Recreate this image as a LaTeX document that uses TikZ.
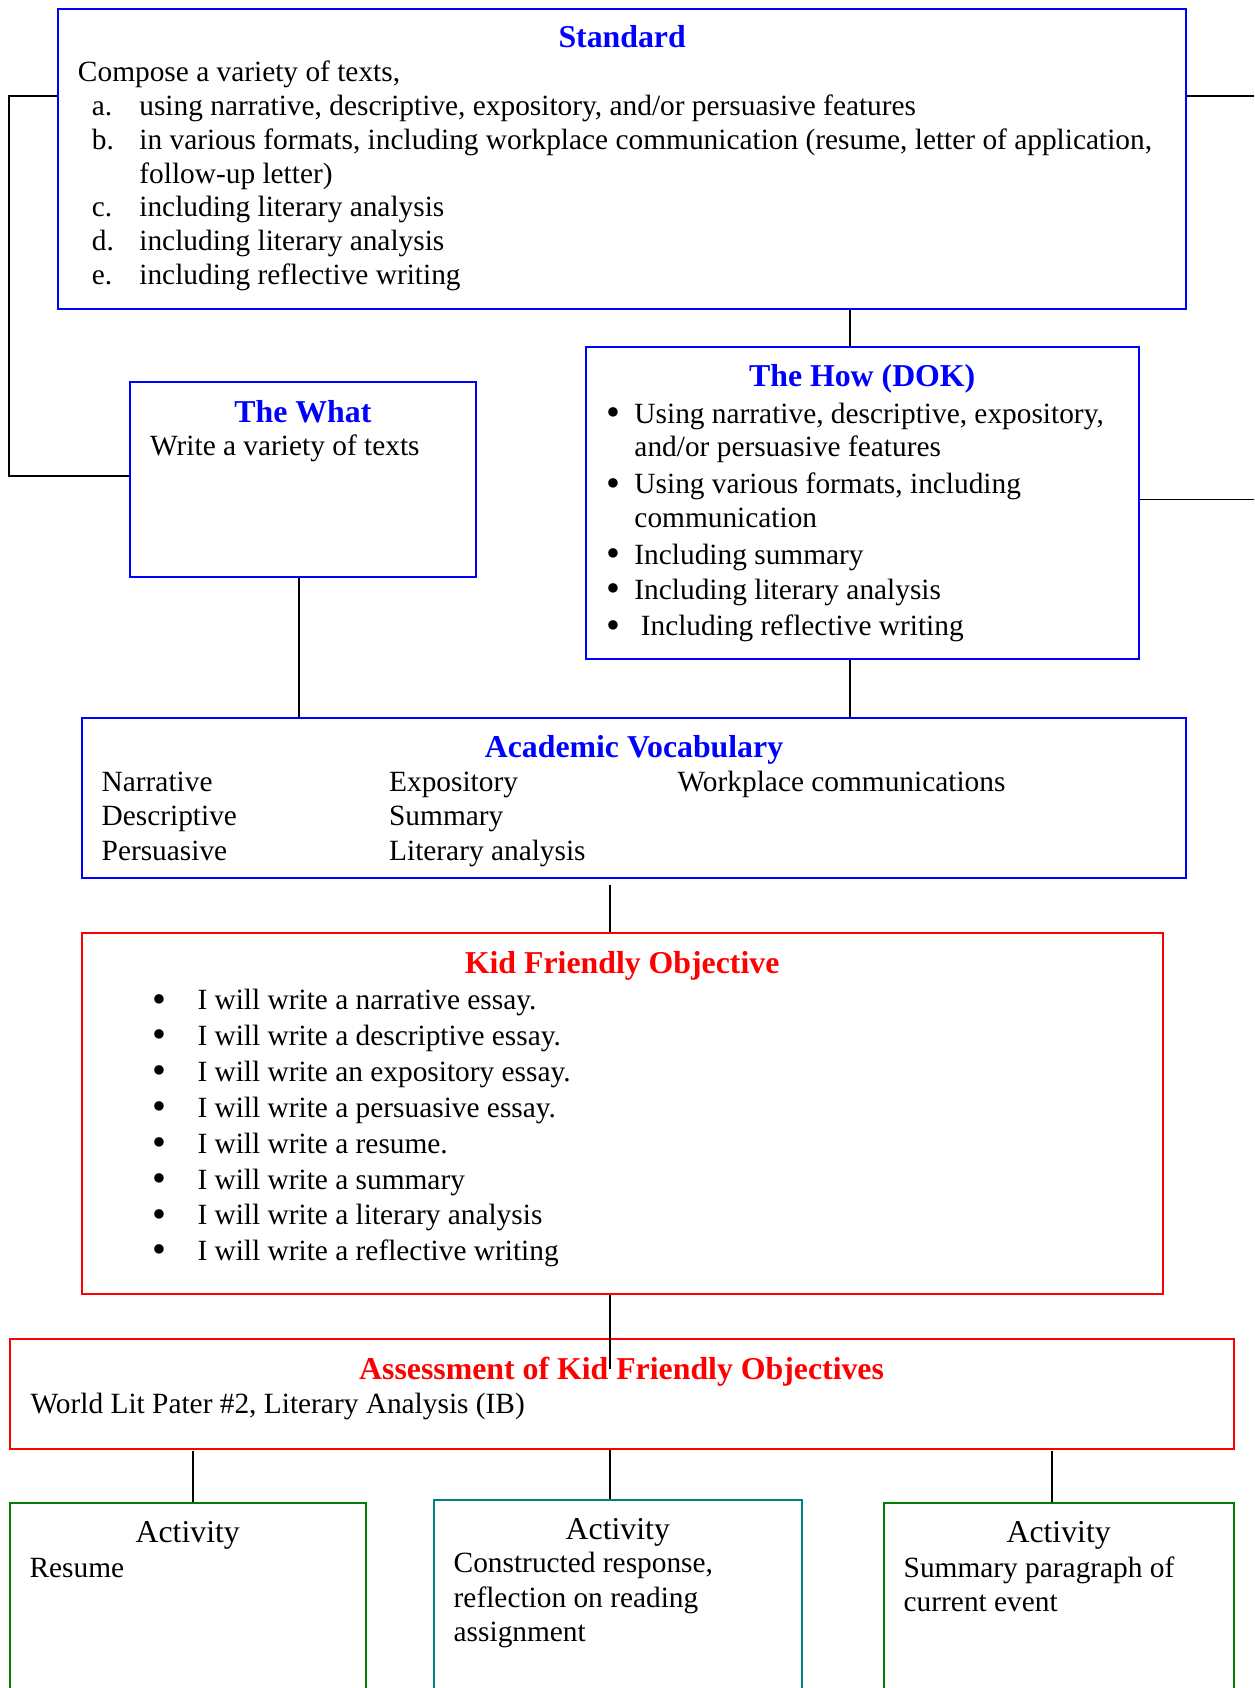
\documentclass[tikz,border=0pt]{standalone}
\usepackage{graphicx}
\usepackage{fontspec}
\setmainfont{Liberation Serif}
\usetikzlibrary{positioning}

\definecolor{actgreen}{RGB}{0,128,0}
\definecolor{actteal}{RGB}{0,128,128}

\newcommand\U{0.44pt}
\newcommand\bigdot{\smash{\raisebox{-0.9pt}{\scalebox{1.35}{\textbullet}}}}
\newcommand\lbl[1]{\hspace*{5.7pt}\makebox[19.4pt][l]{#1}}
\newcommand\hbul{\makebox[11.4pt][l]{\bigdot}}
\newcommand\kbul{\makebox[18.5pt][l]{\bigdot}}

\tikzset{
  box/.style={draw, line width=0.8pt, anchor=north west, inner sep=0pt},
  bluebox/.style={box, draw=blue},
  redbox/.style={box, draw=red},
  head/.style={font=\fontsize{13}{15}\selectfont\bfseries, anchor=base, inner sep=0pt},
  acthead/.style={font=\fontsize{13}{15}\selectfont, anchor=base, inner sep=0pt},
  bodytext/.style={font=\fontsize{12}{13.8}\selectfont, anchor=base west,
    align=flush left, inner sep=0pt, text width=#1},
  link/.style={line width=0.75pt}
}

\begin{document}
\begin{tikzpicture}[x=\U, y=-\U]

\useasboundingbox (0,0) rectangle (1165,1568);
\clip (0,0) rectangle (1165,1568);

%% boxes
\node[bluebox, minimum width=1048*\U, minimum height=279*\U] (std) at (53,7) {};
\node[bluebox, minimum width=321*\U, minimum height=181*\U] (what) at (120,354) {};
\node[bluebox, minimum width=514*\U, minimum height=290*\U] (how) at (543,321) {};
\node[bluebox, minimum width=1026*\U, minimum height=149*\U] (av) at (75,666) {};
\node[redbox, minimum width=1004*\U, minimum height=335*\U] (kfo) at (75,866) {};
\node[redbox, minimum width=1137*\U, minimum height=102*\U] (asm) at (8,1243) {};
\node[box, draw=actgreen, minimum width=331*\U, minimum height=250*\U] (act1) at (8,1395) {};
\node[box, draw=actteal, minimum width=342*\U, minimum height=250*\U] (act2) at (402,1392) {};
\node[box, draw=actgreen, minimum width=325*\U, minimum height=250*\U] (act3) at (820,1395) {};

%% Standard
\node[head, text=blue] (stdhead) at ([yshift=-37*\U]std.north) {Standard};
\node[bodytext=1030*\U] (stdtxt) at ([xshift=19*\U, yshift=-69*\U]std.north west)
  {Compose a variety of texts,\\
   \lbl{a.}using narrative, descriptive, expository, and/or persuasive features\\
   \lbl{b.}in various formats, including workplace communication (resume, letter of application,\\
   \hspace*{25.1pt}follow-up letter)\\
   \lbl{c.}including literary analysis\\
   \lbl{d.}including literary analysis\\
   \lbl{e.}including reflective writing};

%% The What
\node[head, text=blue] (whathead) at ([yshift=-38*\U]what.north) {The What};
\node[bodytext=300*\U] (whattxt) at ([xshift=19*\U, yshift=-69*\U]what.north west)
  {Write a variety of texts};

%% The How
\node[head, text=blue] (howhead) at ([yshift=-38*\U]how.north) {The How (DOK)};
\node[bodytext=490*\U] (howtxt) at ([xshift=20*\U, yshift=-72*\U]how.north west)
  {\hbul Using narrative, descriptive, expository,\\
   \hspace*{11.4pt}and/or persuasive features\\[1.3pt]
   \hbul Using various formats, including\\
   \hspace*{11.4pt}communication\\[1.3pt]
   \hbul Including summary\\[0.3pt]
   \hbul Including literary analysis\\[1.3pt]
   \hbul\hspace*{2.6pt}Including reflective writing};

%% Academic Vocabulary
\node[head, text=blue] (avhead) at ([yshift=-38*\U]av.north) {Academic Vocabulary};
\node[bodytext=1000*\U, font=\fontsize{12}{14.1}\selectfont] (avtxt)
  at ([xshift=19*\U, yshift=-69*\U]av.north west)
  {\makebox[117.5pt][l]{Narrative}\makebox[117.9pt][l]{Expository}Workplace communications\\
   \makebox[117.5pt][l]{Descriptive}Summary\\
   \makebox[117.5pt][l]{Persuasive}Literary analysis};

%% Kid Friendly Objective
\node[head, text=red] (kfohead) at ([yshift=-38*\U]kfo.north) {Kid Friendly Objective};
\node[bodytext=900*\U, font=\fontsize{12}{14.65}\selectfont] (kfotxt)
  at ([xshift=66*\U, yshift=-72*\U]kfo.north west)
  {\kbul I will write a narrative essay.\\
   \kbul I will write a descriptive essay.\\
   \kbul I will write an expository essay.\\
   \kbul I will write a persuasive essay.\\
   \kbul I will write a resume.\\
   \kbul I will write a summary\\
   \kbul I will write a literary analysis\\
   \kbul I will write a reflective writing};

%% Assessment
\node[head, text=red] (asmhead) at ([yshift=-38*\U]asm.north) {Assessment of Kid Friendly Objectives};
\node[bodytext=1100*\U] (asmtxt) at ([xshift=20*\U, yshift=-70*\U]asm.north west)
  {World Lit Pater \#2, Literary Analysis (IB)};

%% Activities
\node[acthead] (act1head) at ([yshift=-38*\U]act1.north) {Activity};
\node[bodytext=300*\U] (act1txt) at ([xshift=19*\U, yshift=-70*\U]act1.north west)
  {Resume};
\node[acthead] (act2head) at ([yshift=-38*\U]act2.north) {Activity};
\node[bodytext=310*\U, font=\fontsize{12}{14.1}\selectfont] (act2txt)
  at ([xshift=19*\U, yshift=-69*\U]act2.north west)
  {Constructed response,\\ reflection on reading\\ assignment};
\node[acthead] (act3head) at ([yshift=-38*\U]act3.north) {Activity};
\node[bodytext=300*\U, font=\fontsize{12}{14.1}\selectfont] (act3txt)
  at ([xshift=19*\U, yshift=-70*\U]act3.north west)
  {Summary paragraph of\\ current event};

%% connectors
\coordinate (lbend) at (8,89);
\coordinate (redge) at (1165,89);

\draw[link] ([yshift=-82*\U]std.north west) -- (lbend) |- ([yshift=3*\U]what.west);
\draw[link] ([yshift=-82*\U]std.north east) -- (redge);
\draw[link] ([yshift=3*\U]how.east) -- ++(108,0);
\draw[link] ([xshift=-11*\U]how.north) -- ([xshift=-11*\U]how.north |- std.south);
\draw[link] ([xshift=-4*\U]what.south) -- ([xshift=-4*\U]what.south |- av.north);
\draw[link] ([xshift=-11*\U]how.south) -- ([xshift=-11*\U]how.south |- av.north);
\draw[link] ([xshift=-11*\U]kfo.north) -- ++(0,-44);
\draw[link] ([xshift=-11*\U]kfo.south) -- ++(0,69);
\draw[link] ([xshift=5*\U]act1.north) -- ++(0,-47);
\draw[link] ([xshift=-7*\U]act2.north) -- ([xshift=-7*\U]act2.north |- asm.south);
\draw[link] ([xshift=-6*\U]act3.north) -- ++(0,-47);

\end{tikzpicture}
\end{document}
